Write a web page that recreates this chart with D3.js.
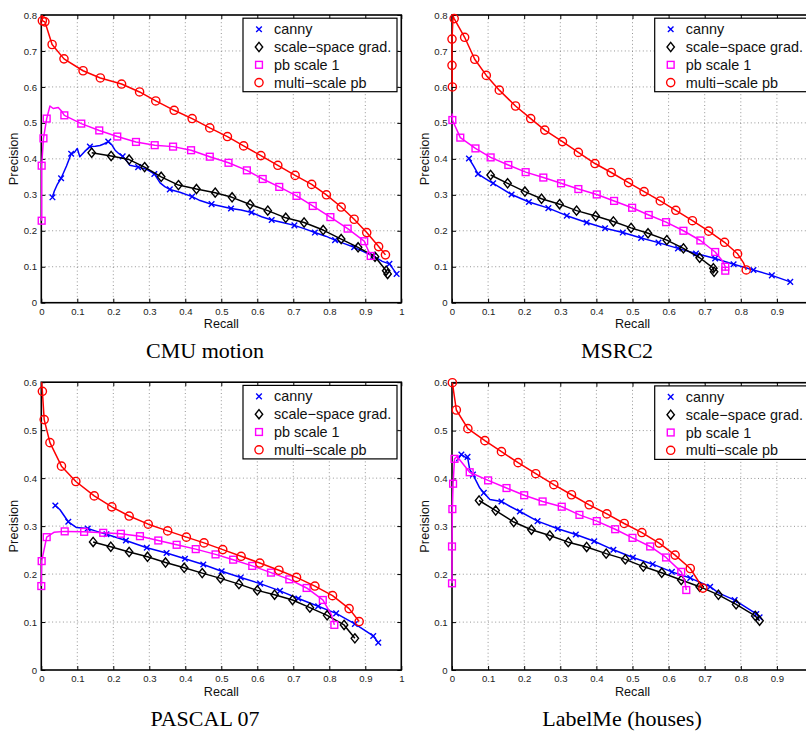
<!DOCTYPE html>
<html><head><meta charset="utf-8">
<script src="https://cdn.jsdelivr.net/npm/d3@7/dist/d3.min.js"></script>
<style>body{margin:0;background:#fff}svg{display:block}</style>
</head><body>
<svg id="c" width="806" height="732"></svg>
<script>
// ---- data: [recall, precision, markerFlag] ----
const seriesNames = ["canny", "scale\u2212space grad.", "pb scale 1", "multi\u2212scale pb"];
const panelTitles = ["CMU motion", "MSRC2", "PASCAL 07", "LabelMe (houses)"];
const xTicks = [0,0.1,0.2,0.3,0.4,0.5,0.6,0.7,0.8,0.9,1];
const yTicksTop = [0,0.1,0.2,0.3,0.4,0.5,0.6,0.7,0.8];
const yTicksBottom = [0,0.1,0.2,0.3,0.4,0.5,0.6];

const cmuCanny = [[0.031,0.293,1],[0.036,0.31,0],[0.045,0.33,0],[0.055,0.346,1],[0.07,0.38,0],[0.083,0.414,1],[0.092,0.418,0],[0.1,0.429,0],[0.107,0.406,0],[0.12,0.42,0],[0.135,0.434,1],[0.15,0.435,0],[0.163,0.437,0],[0.175,0.442,0],[0.186,0.448,1],[0.195,0.44,0],[0.205,0.424,0],[0.215,0.415,0],[0.226,0.407,1],[0.237,0.395,0],[0.246,0.382,0],[0.269,0.377,1],[0.29,0.372,0],[0.314,0.358,1],[0.330,0.333,0],[0.343,0.323,0],[0.357,0.315,1],[0.385,0.307,0],[0.419,0.295,1],[0.441,0.284,0],[0.473,0.274,1],[0.496,0.269,0],[0.527,0.262,1],[0.555,0.258,0],[0.584,0.251,1],[0.612,0.239,0],[0.640,0.230,1],[0.67,0.223,0],[0.703,0.215,1],[0.73,0.206,0],[0.760,0.195,1],[0.79,0.185,0],[0.816,0.174,1],[0.84,0.165,0],[0.869,0.154,1],[0.895,0.142,0],[0.922,0.130,1],[0.947,0.115,0],[0.967,0.108,1],[0.987,0.080,1]];
const cmuScale = [[0.140,0.417,1],[0.194,0.408,1],[0.244,0.398,1],[0.287,0.377,1],[0.333,0.350,1],[0.381,0.327,1],[0.431,0.316,1],[0.483,0.306,1],[0.530,0.293,1],[0.580,0.273,1],[0.629,0.256,1],[0.679,0.236,1],[0.730,0.223,1],[0.783,0.202,1],[0.833,0.177,1],[0.880,0.154,1],[0.927,0.128,1],[0.958,0.089,1],[0.962,0.080,1]];
const cmuPb1 = [[0.001,0.228,1],[0.001,0.381,1],[0.006,0.457,1],[0.015,0.512,1],[0.024,0.547,0],[0.033,0.540,0],[0.047,0.543,0],[0.056,0.533,0],[0.064,0.521,1],[0.111,0.498,1],[0.161,0.479,1],[0.211,0.462,1],[0.263,0.447,1],[0.315,0.438,1],[0.366,0.434,1],[0.416,0.424,1],[0.468,0.406,1],[0.520,0.389,1],[0.571,0.368,1],[0.615,0.344,1],[0.661,0.322,1],[0.709,0.297,1],[0.754,0.269,1],[0.803,0.238,1],[0.851,0.206,1],[0.897,0.171,1],[0.915,0.130,1]];
const cmuMulti = [[0.002,0.80,0],[0.003,0.784,1],[0.010,0.781,1],[0.030,0.718,1],[0.063,0.678,1],[0.116,0.645,1],[0.164,0.625,1],[0.223,0.608,1],[0.273,0.586,1],[0.318,0.561,1],[0.369,0.535,1],[0.419,0.512,1],[0.468,0.486,1],[0.517,0.462,1],[0.562,0.436,1],[0.610,0.409,1],[0.657,0.382,1],[0.705,0.354,1],[0.751,0.329,1],[0.792,0.300,1],[0.833,0.266,1],[0.869,0.232,1],[0.904,0.195,1],[0.937,0.156,1],[0.956,0.133,1]];

const msrcCanny = [[0.047,0.401,1],[0.060,0.38,0],[0.072,0.358,1],[0.091,0.346,0],[0.114,0.332,1],[0.137,0.318,0],[0.165,0.301,1],[0.213,0.280,1],[0.267,0.263,1],[0.318,0.242,1],[0.373,0.223,1],[0.424,0.207,1],[0.473,0.195,1],[0.524,0.180,1],[0.572,0.167,1],[0.626,0.151,1],[0.676,0.137,1],[0.729,0.123,1],[0.780,0.107,1],[0.835,0.091,1],[0.886,0.076,1],[0.937,0.058,1]];
const msrcScale = [[0.107,0.355,1],[0.154,0.332,1],[0.202,0.309,1],[0.248,0.289,1],[0.298,0.274,1],[0.345,0.256,1],[0.398,0.241,1],[0.447,0.226,1],[0.496,0.208,1],[0.543,0.193,1],[0.595,0.174,1],[0.641,0.151,1],[0.686,0.125,1],[0.724,0.096,1],[0.726,0.086,1]];
const msrcPb1 = [[0.001,0.526,0],[0.001,0.508,1],[0.023,0.459,1],[0.065,0.429,1],[0.107,0.404,1],[0.156,0.383,1],[0.204,0.363,1],[0.253,0.348,1],[0.302,0.332,1],[0.350,0.316,1],[0.401,0.301,1],[0.449,0.283,1],[0.499,0.264,1],[0.545,0.244,1],[0.593,0.224,1],[0.641,0.200,1],[0.688,0.173,1],[0.729,0.141,1],[0.750,0.115,0],[0.757,0.100,1],[0.757,0.089,1]];
const msrcMulti = [[0.001,0.600,1],[0.0,0.660,1],[0.0,0.733,1],[0.003,0.797,0],[0.006,0.790,1],[0.035,0.738,1],[0.063,0.677,1],[0.095,0.632,1],[0.131,0.591,1],[0.176,0.547,1],[0.218,0.512,1],[0.257,0.480,1],[0.306,0.448,1],[0.350,0.418,1],[0.396,0.387,1],[0.441,0.362,1],[0.489,0.334,1],[0.532,0.309,1],[0.577,0.283,1],[0.620,0.257,1],[0.666,0.228,1],[0.711,0.199,1],[0.755,0.168,1],[0.791,0.136,1],[0.808,0.110,0],[0.815,0.091,1]];

const pascalCanny = [[0.039,0.343,1],[0.052,0.334,0],[0.075,0.309,1],[0.098,0.297,0],[0.129,0.295,1],[0.154,0.289,0],[0.181,0.283,1],[0.235,0.270,1],[0.293,0.255,1],[0.348,0.244,1],[0.399,0.232,1],[0.450,0.220,1],[0.501,0.206,1],[0.554,0.193,1],[0.608,0.180,1],[0.663,0.165,1],[0.714,0.149,1],[0.769,0.133,1],[0.819,0.118,1],[0.871,0.096,1],[0.922,0.071,1],[0.936,0.057,1]];
const pascalScale = [[0.144,0.267,1],[0.193,0.257,1],[0.244,0.246,1],[0.295,0.236,1],[0.345,0.224,1],[0.397,0.213,1],[0.447,0.202,1],[0.498,0.191,1],[0.549,0.179,1],[0.600,0.166,1],[0.648,0.157,1],[0.698,0.146,1],[0.746,0.130,1],[0.794,0.114,1],[0.841,0.094,1],[0.871,0.066,1]];
const pascalPb1 = [[0.0,0.175,1],[0.001,0.227,1],[0.015,0.277,1],[0.035,0.287,0],[0.065,0.289,1],[0.119,0.288,1],[0.172,0.286,1],[0.221,0.284,1],[0.274,0.279,1],[0.325,0.270,1],[0.376,0.261,1],[0.429,0.252,1],[0.484,0.241,1],[0.533,0.230,1],[0.586,0.217,1],[0.638,0.203,1],[0.689,0.189,1],[0.737,0.171,1],[0.782,0.146,1],[0.806,0.115,0],[0.814,0.094,1]];
const pascalMulti = [[0.001,0.600,0],[0.003,0.581,1],[0.008,0.522,1],[0.024,0.474,1],[0.056,0.425,1],[0.096,0.393,1],[0.147,0.363,1],[0.196,0.340,1],[0.244,0.321,1],[0.297,0.304,1],[0.351,0.290,1],[0.403,0.277,1],[0.452,0.265,1],[0.504,0.251,1],[0.555,0.237,1],[0.607,0.223,1],[0.660,0.208,1],[0.709,0.193,1],[0.760,0.175,1],[0.809,0.155,1],[0.855,0.128,1],[0.883,0.101,1]];

const labelmeCanny = [[0.012,0.436,0],[0.026,0.450,1],[0.040,0.443,0],[0.043,0.445,1],[0.049,0.419,0],[0.058,0.408,1],[0.077,0.380,0],[0.088,0.370,1],[0.105,0.356,0],[0.137,0.352,1],[0.160,0.342,0],[0.188,0.331,1],[0.237,0.311,1],[0.293,0.295,1],[0.343,0.283,1],[0.394,0.269,1],[0.447,0.251,1],[0.501,0.235,1],[0.556,0.221,1],[0.609,0.205,1],[0.660,0.192,1],[0.715,0.174,1],[0.738,0.161,0],[0.783,0.146,1],[0.843,0.117,1],[0.852,0.110,1]];
const labelmeScale = [[0.075,0.354,1],[0.121,0.333,1],[0.171,0.309,1],[0.220,0.293,1],[0.271,0.281,1],[0.322,0.267,1],[0.373,0.257,1],[0.427,0.243,1],[0.480,0.231,1],[0.530,0.216,1],[0.581,0.203,1],[0.635,0.188,1],[0.686,0.174,1],[0.738,0.157,1],[0.787,0.137,1],[0.840,0.113,1],[0.852,0.103,1]];
const labelmePb1 = [[0.0,0.181,1],[0.0,0.258,1],[0.001,0.336,1],[0.003,0.389,1],[0.007,0.441,1],[0.014,0.446,0],[0.049,0.413,1],[0.100,0.396,1],[0.151,0.380,1],[0.200,0.365,1],[0.251,0.352,1],[0.304,0.341,1],[0.353,0.324,1],[0.401,0.311,1],[0.452,0.294,1],[0.500,0.276,1],[0.549,0.258,1],[0.593,0.235,1],[0.635,0.205,1],[0.645,0.185,0],[0.649,0.167,1]];
const labelmeMulti = [[0.001,0.600,1],[0.012,0.543,1],[0.044,0.504,1],[0.091,0.479,1],[0.137,0.456,1],[0.183,0.433,1],[0.232,0.410,1],[0.282,0.387,1],[0.331,0.366,1],[0.380,0.345,1],[0.429,0.326,1],[0.477,0.306,1],[0.526,0.287,1],[0.574,0.265,1],[0.618,0.240,1],[0.660,0.212,1],[0.695,0.171,1]];

// ---- styles ----
const colors = ["#0000ff", "#000000", "#ff00ff", "#ff0000"];
const markers = ["x", "diamond", "square", "circle"];

const panels = [
  {title: panelTitles[0], series: [cmuCanny, cmuScale, cmuPb1, cmuMulti], left: 41.3, right: 401.3, top: 15, bottom: 302.7, ymax: 0.8, yTicks: yTicksTop, titleX: 205, titleY: 350},
  {title: panelTitles[1], series: [msrcCanny, msrcScale, msrcPb1, msrcMulti], left: 452, right: 813, top: 15, bottom: 302.7, ymax: 0.8, yTicks: yTicksTop, titleX: 617, titleY: 350},
  {title: panelTitles[2], series: [pascalCanny, pascalScale, pascalPb1, pascalMulti], left: 41.3, right: 401.3, top: 382.2, bottom: 670, ymax: 0.6, yTicks: yTicksBottom, titleX: 205, titleY: 718},
  {title: panelTitles[3], series: [labelmeCanny, labelmeScale, labelmePb1, labelmeMulti], left: 452, right: 813, top: 382.7, bottom: 670, ymax: 0.6, yTicks: yTicksBottom, titleX: 622, titleY: 718}
];

const W = 806;
const svg = d3.select("#c");
const sans = "'Liberation Sans', Arial, Helvetica, sans-serif";
const serif = "'Liberation Serif', 'Times New Roman', serif";

function drawMarker(g, type, cx, cy, color) {
  if (type === "x") {
    const s = 2.8;
    g.append("path").attr("d", `M${cx-s},${cy-s}L${cx+s},${cy+s}M${cx-s},${cy+s}L${cx+s},${cy-s}`)
      .attr("stroke", color).attr("stroke-width", 1.4).attr("fill", "none");
  } else if (type === "diamond") {
    g.append("path").attr("d", `M${cx},${cy-4.6}L${cx+3.7},${cy}L${cx},${cy+4.6}L${cx-3.7},${cy}Z`)
      .attr("stroke", color).attr("stroke-width", 1.4).attr("fill", "none");
  } else if (type === "square") {
    g.append("rect").attr("x", cx-3.4).attr("y", cy-3.4).attr("width", 6.8).attr("height", 6.8)
      .attr("stroke", color).attr("stroke-width", 1.4).attr("fill", "none");
  } else {
    g.append("circle").attr("cx", cx).attr("cy", cy).attr("r", 4.1)
      .attr("stroke", color).attr("stroke-width", 1.4).attr("fill", "none");
  }
}

panels.forEach(p => {
  const x = d3.scaleLinear().domain([0, 1]).range([p.left, p.right]);
  const y = d3.scaleLinear().domain([0, p.ymax]).range([p.bottom, p.top]);
  const g = svg.append("g");

  // grid
  const grid = g.append("g").attr("stroke", "#8a8a8a").attr("stroke-width", 0.9).attr("stroke-dasharray", "1,2.6");
  xTicks.filter(t => t > 0 && t < 1).forEach(t => {
    grid.append("line").attr("x1", x(t)).attr("x2", x(t)).attr("y1", p.top).attr("y2", p.bottom);
  });
  p.yTicks.filter(t => t > 0 && t < p.ymax - 1e-9).forEach(t => {
    grid.append("line").attr("x1", p.left).attr("x2", p.right).attr("y1", y(t)).attr("y2", y(t));
  });

  // axes (inward ticks); labels only for ticks inside the visible page
  const fmt = d => String(d);
  const visibleX = xTicks.filter(t => x(t) < W - 4);
  const ax = g.append("g").attr("transform", `translate(0,${p.bottom})`)
    .call(d3.axisBottom(x).tickValues(visibleX).tickFormat(fmt).tickSize(-4).tickPadding(5.5));
  const axT = g.append("g").attr("transform", `translate(0,${p.top})`)
    .call(d3.axisTop(x).tickValues(visibleX).tickFormat("").tickSize(-4));
  const ay = g.append("g").attr("transform", `translate(${p.left},0)`)
    .call(d3.axisLeft(y).tickValues(p.yTicks).tickFormat(fmt).tickSize(-4).tickPadding(4.3));
  const ayR = g.append("g").attr("transform", `translate(${p.right},0)`)
    .call(d3.axisRight(y).tickValues(p.yTicks).tickFormat("").tickSize(-4));
  [ax, axT, ay, ayR].forEach(a => {
    a.select(".domain").remove();
    a.selectAll(".tick line").attr("stroke", "#000").attr("stroke-width", 1);
    a.selectAll("text").attr("font-family", sans).attr("font-size", 9.6).attr("fill", "#222");
  });

  // frame
  g.append("rect").attr("x", p.left).attr("y", p.top).attr("width", p.right - p.left).attr("height", p.bottom - p.top)
    .attr("fill", "none").attr("stroke", "#000").attr("stroke-width", 1.6);

  // series
  const line = d3.line().x(d => x(d[0])).y(d => y(d[1]));
  p.series.forEach((data, i) => {
    const sg = g.append("g");
    sg.append("path").datum(data).attr("d", line).attr("fill", "none")
      .attr("stroke", colors[i]).attr("stroke-width", 1.5).attr("stroke-linejoin", "round");
    data.filter(d => d[2]).forEach(d => drawMarker(sg, markers[i], x(d[0]), y(d[1]), colors[i]));
  });

  // legend
  const lw = 154, lh = 73.5;
  const lx = p.right - 4.3 - lw, ly = p.top + 3.2;
  const lg = g.append("g");
  lg.append("rect").attr("x", lx).attr("y", ly).attr("width", lw).attr("height", lh)
    .attr("fill", "#fff").attr("stroke", "#000").attr("stroke-width", 1.2);
  seriesNames.forEach((n, i) => {
    const ry = ly + 11 + i * 17.8;
    drawMarker(lg, markers[i], lx + 16, ry, colors[i]);
    lg.append("text").attr("x", lx + 31).attr("y", ry).attr("dominant-baseline", "central")
      .attr("font-family", sans).attr("font-size", 14.4).attr("fill", "#111").text(n);
  });

  // axis labels
  g.append("text").attr("x", x(0.5)).attr("y", p.bottom + 21.5)
    .attr("text-anchor", "middle").attr("dominant-baseline", "central")
    .attr("font-family", sans).attr("font-size", 12.6).attr("fill", "#111").text("Recall");
  g.append("text").attr("transform", `translate(${p.left - 27.5},${(p.top + p.bottom) / 2}) rotate(-90)`)
    .attr("text-anchor", "middle").attr("dominant-baseline", "central")
    .attr("font-family", sans).attr("font-size", 12.8).attr("fill", "#111").text("Precision");

  // title
  svg.append("text").attr("x", p.titleX).attr("y", p.titleY).attr("text-anchor", "middle")
    .attr("dominant-baseline", "central").attr("font-family", serif).attr("font-size", 22)
    .attr("fill", "#000").text(p.title);
});
</script>
</body></html>
